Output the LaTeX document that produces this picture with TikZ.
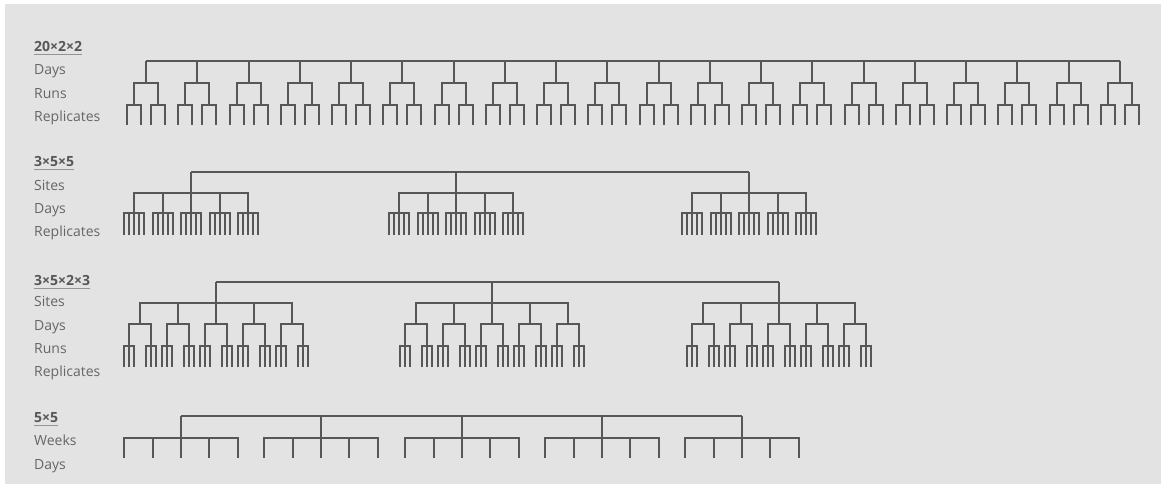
\documentclass[tikz,border=0pt]{standalone}
\usepackage{fontspec}
\setmainfont{Open Sans}
\usetikzlibrary{calc}
\definecolor{bgray}{HTML}{E3E3E3}
\definecolor{lgray}{HTML}{575757}
\definecolor{tgray}{HTML}{666666}
\tikzset{
  branch/.style={draw=lgray, line width=2.4pt},
  lbl/.style={anchor=base west, inner sep=0pt, text=tgray, font=\fontsize{14}{16}\selectfont},
  ttl/.style={lbl, text=lgray, font=\fontsize{14}{16}\selectfont\bfseries},
  uline/.style={draw=tgray!70, line width=1pt}
}
\begin{document}
\begin{tikzpicture}[x=1pt, y=-1pt, line join=miter, line cap=butt]
        \fill[white] (0,0) rectangle (1161,484);
        \fill[bgray] (5,4) rectangle (1161,484);
        \useasboundingbox (0,0) rectangle (1161,484);
        % labels
        \node[ttl] (A) at (34,51.7) {20×2×2};
        \node[lbl] (A1) at (34,75) {Days};
        \node[lbl] (A2) at (34,98.3) {Runs};
        \node[lbl] (A3) at (34,121.7) {Replicates};
        \node[ttl] (B) at (34,166.7) {3×5×5};
        \node[lbl] (B1) at (34,190) {Sites};
        \node[lbl] (B2) at (34,213.3) {Days};
        \node[lbl] (B3) at (34,236.7) {Replicates};
        \node[ttl] (C) at (34,285) {3×5×2×3};
        \node[lbl] (C1) at (34,306.7) {Sites};
        \node[lbl] (C2) at (34,330) {Days};
        \node[lbl] (C3) at (34,353.3) {Runs};
        \node[lbl] (C4) at (34,376) {Replicates};
        \node[ttl] (D) at (34,422.7) {5×5};
        \node[lbl] (D1) at (34,445.7) {Weeks};
        \node[lbl] (D2) at (34,469.3) {Days};
        \foreach \t in {A,B,C,D}
            \draw[uline] ($(\t.base west)+(0,3)$) -- ($(\t.base east)+(0,3)$);
        % 20x2x2
        \draw[branch] (146,61) -- (1120,61);
        \foreach \i in {0,...,19}{
            \pgfmathsetmacro\dx{round(146+51.26*\i)}
            \draw[branch] (\dx,61) -- (\dx,83);
            \draw[branch] (\dx-12,105) |- (\dx+12,83) -- (\dx+12,105);
            \foreach \r in {-12,12}
                \draw[branch] (\dx+\r-7,125) |- (\dx+\r+7,105) -- (\dx+\r+7,125);
        }
        % 3x5x5
        \draw[branch] (191,172) -- (749,172);
        \foreach \s in {191,456,749}{
            \draw[branch] (\s,172) -- (\s,193);
            \draw[branch] (\s-57,213) |- (\s+57,193) -- (\s+57,213);
            \foreach \k in {-2,...,2}{
                \pgfmathsetmacro\dx{round(\s+28.5*\k)}
                \draw[branch] (\dx,193) -- (\dx,213);
                \draw[branch] (\dx-10,235) |- (\dx+10,213) -- (\dx+10,235);
                \foreach \l in {-5,0,5}
                    \draw[branch] (\dx+\l,213) -- (\dx+\l,235);
            }
        }
        % 3x5x2x3
        \draw[branch] (216,282) -- (779,282);
        \foreach \s in {216,492,779}{
            \draw[branch] (\s,282) -- (\s,303);
            \draw[branch] (\s-76,324) |- (\s+76,303) -- (\s+76,324);
            \foreach \k in {-2,...,2}{
                \pgfmathsetmacro\dx{round(\s+38*\k)}
                \draw[branch] (\dx,303) -- (\dx,324);
                \draw[branch] (\dx-11,346) |- (\dx+11,324) -- (\dx+11,346);
                \foreach \r in {-11,11}{
                    \draw[branch] (\dx+\r-5,367) |- (\dx+\r+5,346) -- (\dx+\r+5,367);
                    \draw[branch] (\dx+\r,346) -- (\dx+\r,367);
                }
            }
        }
        % 5x5
        \draw[branch] (181,416) -- (742,416);
        \foreach \k in {0,...,4}{
            \pgfmathsetmacro\gx{round(181+140.25*\k)}
            \draw[branch] (\gx,416) -- (\gx,458);
            \draw[branch] (\gx-57,458) |- (\gx+57,438) -- (\gx+57,458);
            \foreach \l in {-28,28}
                \draw[branch] (\gx+\l,438) -- (\gx+\l,458);
        }
\end{tikzpicture}
\end{document}
